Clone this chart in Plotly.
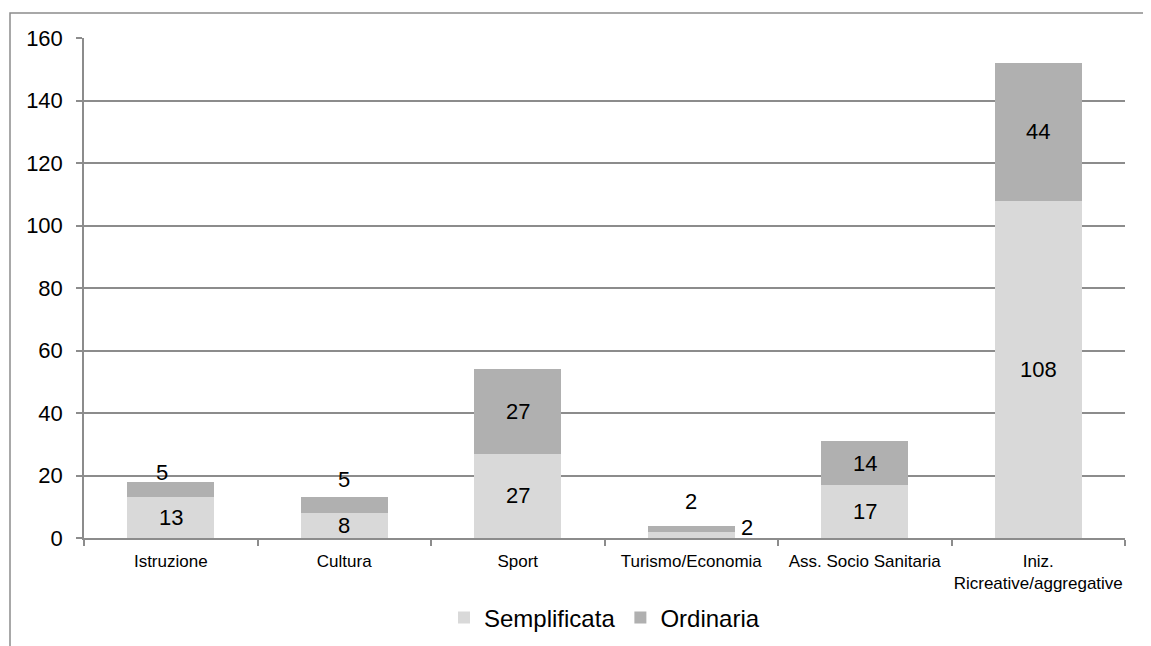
import plotly.graph_objects as go

categories = ["Istruzione", "Cultura", "Sport", "Turismo/Economia",
              "Ass. Socio Sanitaria", "Iniz.<br>Ricreative/aggregative"]
semplificata = [13, 8, 27, 2, 17, 108]
ordinaria = [5, 5, 27, 2, 14, 44]
y_ticks = [0, 20, 40, 60, 80, 100, 120, 140, 160]

# label pixel nudges (for segments too small to hold their label)
semp_shift = [(0, 0), (0, 0), (0, 0), (56, 7), (0, 0), (0, 0)]
ord_shift = [(-9, 17), (0, 26), (0, 0), (0, 27), (0, 0), (0, 0)]

C_SEMP = "#d9d9d9"
C_ORD = "#b0b0b0"
GRID = "#8c8c8c"
FONT = "Liberation Sans"

fig = go.Figure()
fig.add_trace(go.Bar(x=categories, y=semplificata, name="Semplificata",
                     marker=dict(color=C_SEMP, line=dict(width=0))))
fig.add_trace(go.Bar(x=categories, y=ordinaria, name="Ordinaria",
                     marker=dict(color=C_ORD, line=dict(width=0))))

annotations = []
for i, c in enumerate(categories):
    s, o = semplificata[i], ordinaria[i]
    annotations.append(dict(x=c, y=s / 2, text=str(s), showarrow=False,
                            xshift=semp_shift[i][0], yshift=semp_shift[i][1],
                            font=dict(family=FONT, size=22, color="black")))
    annotations.append(dict(x=c, y=s + o / 2, text=str(o), showarrow=False,
                            xshift=ord_shift[i][0], yshift=ord_shift[i][1],
                            font=dict(family=FONT, size=22, color="black")))

# page body has an 8px margin: figure is placed at (8, 8)
W, H = 1143, 638
L, T, PW, PH = 76, 30, 1041, 500

fig.update_layout(
    barmode="stack",
    bargap=0.5,
    width=W, height=H,
    margin=dict(l=L, r=W - L - PW, t=T, b=H - T - PH, autoexpand=False),
    paper_bgcolor="white", plot_bgcolor="white",
    font=dict(family=FONT, color="black"),
    annotations=annotations,
    legend=dict(orientation="h", x=0.5, xanchor="center", y=-0.16, yanchor="middle",
                font=dict(family=FONT, size=24, color="black"),
                itemsizing="constant", traceorder="normal"),
    shapes=[dict(type="rect", xref="paper", yref="paper",
                 x0=(2 - L) / PW, x1=1.1, y0=-0.4, y1=(PH + T - 5) / PH,
                 line=dict(color=GRID, width=1.5), layer="below")],
)
fig.update_xaxes(showline=True, linecolor=GRID, linewidth=1.5,
                 ticks="outside", tickson="boundaries", ticklen=6, tickcolor=GRID,
                 tickwidth=1.5, showgrid=False, tickangle=0, automargin=False,
                 ticklabelstandoff=7,
                 tickfont=dict(family=FONT, size=17, color="black"))
fig.update_yaxes(range=[0, 160], tickvals=y_ticks, showline=True, linecolor=GRID,
                 linewidth=1.5, ticks="outside", ticklen=6, tickcolor=GRID, tickwidth=1.5,
                 showgrid=True, gridcolor=GRID, gridwidth=1.5, zeroline=False,
                 ticklabelstandoff=9, automargin=False,
                 tickfont=dict(family=FONT, size=22, color="black"))

fig.write_html("out.html")
